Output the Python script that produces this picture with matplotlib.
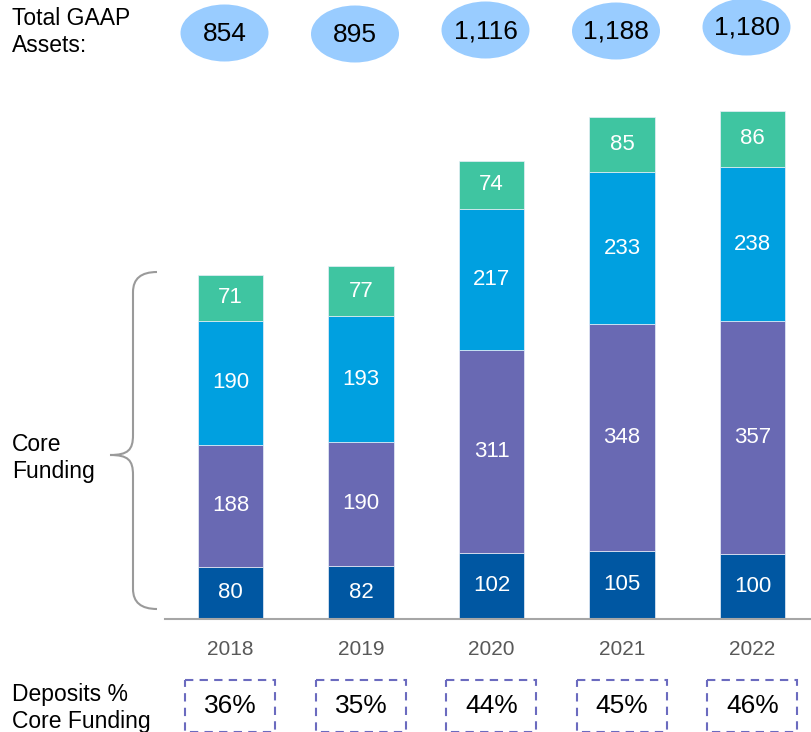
import matplotlib
matplotlib.use("Agg")
import matplotlib.pyplot as plt
from matplotlib.patches import Ellipse, Rectangle
from matplotlib.path import Path
from matplotlib.patches import PathPatch

plt.rcParams['font.family'] = ['Liberation Sans', 'DejaVu Sans']

years = ["2018", "2019", "2020", "2021", "2022"]
seg_bottom = [80, 82, 102, 105, 100]
seg_purple = [188, 190, 311, 348, 357]
seg_blue = [190, 193, 217, 233, 238]
seg_teal = [71, 77, 74, 85, 86]
total_assets = ["854", "895", "1,116", "1,188", "1,180"]
deposits_pct = ["36%", "35%", "44%", "45%", "46%"]

colors = ["#0057A2", "#6969B3", "#00A0E0", "#3FC5A1"]

W, H = 812, 732
fig = plt.figure(figsize=(W / 100, H / 100), dpi=100)

# main axes in pixel layout
ax_left, ax_right = 165, 812
ax_top, ax_bot = 100, 619
ax = fig.add_axes([ax_left / W, (H - ax_bot) / H, (ax_right - ax_left) / W, (ax_bot - ax_top) / H])
scale = 0.651
ax.set_ylim(0, (ax_bot - ax_top) / scale)
ax.set_xlim((ax_left - 230.5) / 130.5, (ax_right - 230.5) / 130.5)

x = list(range(len(years)))
series = [seg_bottom, seg_purple, seg_blue, seg_teal]
bottoms = [0] * len(years)
for vals, c in zip(series, colors):
    ax.bar(x, vals, width=0.5, bottom=bottoms, color=c, edgecolor="#e8eef8", linewidth=0.5)
    for xi, v, b in zip(x, vals, bottoms):
        ax.text(xi, b + v / 2, f"{v}", ha="center", va="center", color="white", fontsize=16)
    bottoms = [b + v for b, v in zip(bottoms, vals)]

for s in ["top", "right", "left"]:
    ax.spines[s].set_visible(False)
ax.spines["bottom"].set_color("#a6a6a6")
ax.spines["bottom"].set_linewidth(1.5)
ax.set_yticks([])
ax.set_xticks(x)
ax.set_xticklabels(years, fontsize=15, color="#595959")
ax.tick_params(axis="x", length=0, pad=15)

# overlay axes in pixel coordinates
ov = fig.add_axes([0, 0, 1, 1], zorder=5)
ov.set_xlim(0, W)
ov.set_ylim(H, 0)
ov.axis("off")
ov.patch.set_alpha(0)

def px_x(i):
    disp = ax.transData.transform((i, 0))
    return disp[0] * W / fig.bbox.width

ell_y = [33, 34, 30, 31, 27]
for i, lab in enumerate(total_assets):
    cx = px_x(i) - 6
    ov.add_patch(Ellipse((cx, ell_y[i]), 88, 57, facecolor="#99CCFF", edgecolor="none"))
    ov.text(cx, ell_y[i] + 1, lab, ha="center", va="center", fontsize=19, color="black")

for i, lab in enumerate(deposits_pct):
    cx = px_x(i)
    ov.add_patch(Rectangle((cx - 45, 680), 90, 52, facecolor="none", edgecolor="#6B6BBF",
                           linewidth=1.5, linestyle=(0, (4, 3))))
    ov.text(cx, 706, lab, ha="center", va="center", fontsize=19, color="black")

ov.text(12, 32, "Total GAAP\nAssets:", ha="left", va="center", fontsize=16.5, color="black", linespacing=1.25)
ov.text(12, 458, "Core\nFunding", ha="left", va="center", fontsize=16.5, color="black", linespacing=1.25)
ov.text(12, 708, "Deposits %\nCore Funding", ha="left", va="center", fontsize=16.5, color="black", linespacing=1.25)

# brace
top_y, bot_y, mid_y = 272, 609, 455
xr, xm, xt = 157, 133, 110
verts = [
    (xr, top_y), (xm, top_y), (xm, top_y + 20),
    (xm, mid_y - 20),
    (xm, mid_y - 5), (xm - 5, mid_y), (xt, mid_y),
    (xm - 5, mid_y), (xm, mid_y + 5), (xm, mid_y + 20),
    (xm, bot_y - 20),
    (xm, bot_y), (xr, bot_y),
]
codes = [Path.MOVETO, Path.CURVE3, Path.CURVE3,
         Path.LINETO,
         Path.CURVE4, Path.CURVE4, Path.CURVE4,
         Path.CURVE4, Path.CURVE4, Path.CURVE4,
         Path.LINETO,
         Path.CURVE3, Path.CURVE3]
ov.add_patch(PathPatch(Path(verts, codes), facecolor="none", edgecolor="#9a9a9a", linewidth=1.5))

fig.savefig("out.png", dpi=100)
